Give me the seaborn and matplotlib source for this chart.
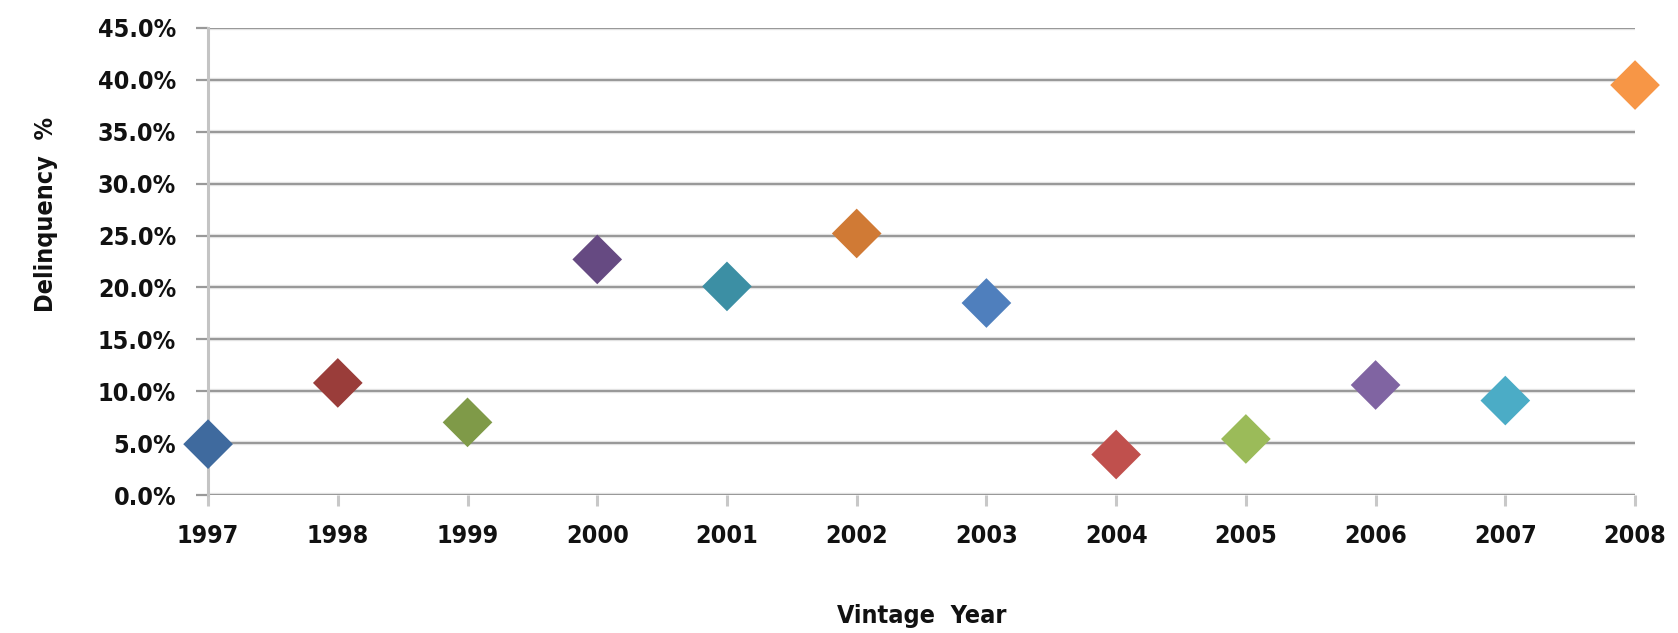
import matplotlib
matplotlib.use("Agg")
import matplotlib.pyplot as plt
import matplotlib.ticker as mticker
import seaborn as sns
import pandas as pd

# Delinquency rate by loan vintage year
years = [1997, 1998, 1999, 2000, 2001, 2002, 2003, 2004, 2005, 2006, 2007, 2008]
delinquency = [0.049, 0.108, 0.070, 0.227, 0.201, 0.252, 0.185, 0.039, 0.054, 0.106, 0.091, 0.395]
colors = ["#3F6A9E", "#9A3D3A", "#7F9A48", "#664A82", "#3C8FA4", "#D07A35",
          "#4F7FBD", "#C0504D", "#9BBB59", "#8064A2", "#4BACC6", "#F79646"]
y_ticks = [0.0, 0.05, 0.10, 0.15, 0.20, 0.25, 0.30, 0.35, 0.40, 0.45]

df = pd.DataFrame({"year": years, "rate": delinquency})

sns.set_theme(style="white")
plt.rcParams["font.family"] = ["DejaVu Sans"]
plt.rcParams["font.stretch"] = "condensed"
plt.rcParams["font.weight"] = "bold"

fig = plt.figure(figsize=(16.78, 6.33), dpi=100)
ax = fig.add_axes([0.124, 0.218, 0.8504, 0.7378])

# horizontal gridlines with a faint halo
for t in y_ticks:
    ax.axhline(t, color="#ececec", lw=3.2, zorder=0.5)
    ax.axhline(t, color="#999999", lw=1.6, zorder=1)

sns.scatterplot(data=df, x="year", y="rate", hue="year", palette=colors,
                marker="D", s=640, linewidth=0, legend=False, ax=ax,
                zorder=3, clip_on=False)

ax.set_xlim(years[0], years[-1])
ax.set_ylim(0, 0.45)
ax.set_xticks(years)
ax.set_xticklabels([str(y) for y in years])
ax.set_yticks(y_ticks)
ax.yaxis.set_major_formatter(mticker.FuncFormatter(lambda v, p: f"{v*100:.1f}%"))

for s in ["top", "right", "bottom"]:
    ax.spines[s].set_visible(False)
ax.spines["left"].set_color("#c4c4c4")
ax.spines["left"].set_linewidth(2.2)
ax.spines["left"].set_zorder(2)

ax.tick_params(axis="y", which="major", direction="out", length=9, width=1.6,
               color="#999999", labelsize=18, pad=14, labelcolor="#111111", left=True)
ax.tick_params(axis="x", which="major", direction="out", length=8, width=2.2,
               color="#c8c8c8", labelsize=18, pad=13, labelcolor="#111111", bottom=True)
for lab in ax.get_xticklabels() + ax.get_yticklabels():
    lab.set_fontweight("bold")
    lab.set_fontstretch("condensed")

ax.set_xlabel("Vintage  Year", fontsize=18, fontweight="bold", labelpad=40, color="#111111")
ax.set_ylabel("Delinquency  %", fontsize=18, fontweight="bold", color="#111111")
ax.yaxis.set_label_coords(-0.105, 0.6)

fig.savefig("out.png", dpi=100, facecolor="white")
